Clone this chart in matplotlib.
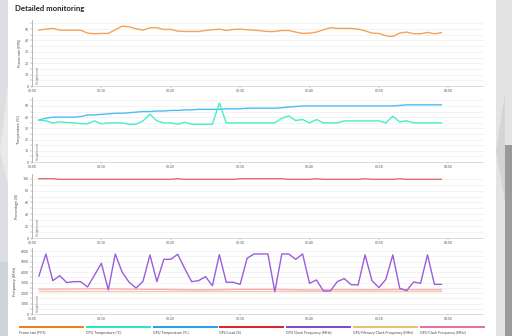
import numpy as np
import matplotlib
matplotlib.use("Agg")
import matplotlib.pyplot as plt
from matplotlib.patches import Rectangle, Polygon
from matplotlib.ticker import MultipleLocator, FuncFormatter

plt.rcParams["font.family"] = ["Lato", "DejaVu Sans"]

# ---------------- data (one sample per second) ----------------
seconds = list(range(1, 60))

frame_rate = [49.1, 50.0, 50.6, 49.1, 49.1, 49.1, 49.1, 46.5, 45.9, 46.2,
              46.2, 49.4, 52.6, 52.0, 50.3, 49.1, 51.2, 51.2, 49.7, 49.7,
              48.2, 47.9, 47.9, 47.9, 48.8, 49.4, 50.0, 48.8, 49.7, 50.0,
              49.4, 49.1, 48.5, 47.9, 47.9, 48.8, 48.8, 47.4, 46.2, 46.5,
              47.4, 49.4, 51.2, 50.6, 50.6, 50.6, 50.0, 48.5, 46.5, 46.2,
              44.1, 43.5, 46.5, 47.4, 45.9, 45.9, 47.1, 45.9, 46.8]

cpu_temp = [37.3, 36.7, 34.9, 35.8, 35.2, 34.9, 34.3, 34.0, 36.7, 34.0,
            34.9, 34.9, 34.9, 33.7, 33.7, 36.7, 42.6, 36.7, 34.9, 34.9,
            33.7, 35.5, 33.7, 33.7, 33.7, 33.7, 52.7, 34.9, 34.9, 34.9,
            34.9, 34.9, 34.9, 34.9, 34.9, 39.0, 41.1, 37.0, 37.9, 34.9,
            37.9, 34.9, 34.9, 34.9, 36.7, 36.7, 36.7, 36.7, 36.7, 36.7,
            34.9, 40.8, 35.8, 36.7, 34.9, 34.9, 34.9, 34.9, 34.9]

gpu_temp = [37.5, 39.0, 40.0, 40.0, 40.0, 40.0, 40.5, 42.0, 42.0, 42.5,
            43.0, 43.5, 43.5, 44.0, 44.5, 45.0, 45.0, 45.5, 45.5, 46.0,
            46.0, 46.5, 46.5, 47.0, 47.0, 47.0, 47.0, 47.5, 47.5, 47.5,
            48.0, 48.0, 48.0, 48.0, 48.0, 48.5, 49.0, 49.5, 50.0, 50.0,
            50.0, 50.0, 50.0, 50.0, 50.0, 50.0, 50.0, 50.0, 50.0, 50.0,
            50.0, 50.0, 50.5, 51.0, 51.0, 51.0, 51.0, 51.0, 51.0]

gpu_load = [100, 100, 100, 99, 99, 99, 99, 99, 99, 99,
            99, 99, 99, 99, 99, 99, 99, 99, 99, 99,
            100, 99, 99, 99, 99, 99, 99, 99, 99, 100,
            100, 100, 100, 100, 100, 100, 99, 99, 99, 99,
            100, 99, 99, 99, 99, 99, 99, 100, 99, 99,
            99, 99, 100, 99, 99, 99, 99, 99, 99]

cpu_clock = [3630, 5730, 3180, 3660, 3000, 3090, 3090, 2580, 3700, 4840,
             2300, 5730, 3980, 3030, 2480, 3120, 5640, 3090, 5220, 5220,
             5700, 4360, 3090, 3180, 3570, 2700, 5670, 3030, 3030, 2830,
             5320, 5730, 5730, 5730, 2130, 5730, 5730, 5220, 5730, 2930,
             3250, 2200, 2200, 3090, 3380, 2800, 2770, 5640, 3180, 2520,
             3310, 5640, 2450, 2230, 3060, 2930, 5640, 2830, 2830]

gpu_mem_clock = [2230] * 59

gpu_clock = [2360, 2370, 2380, 2380, 2380, 2390, 2390, 2400, 2400, 2400,
             2390, 2390, 2380, 2370, 2370, 2360, 2360, 2350, 2350, 2340,
             2330, 2320, 2310, 2310, 2310, 2320, 2330, 2340, 2350, 2350,
             2350, 2350, 2360, 2360, 2350, 2340, 2330, 2320, 2300, 2300,
             2300, 2310, 2320, 2330, 2330, 2330, 2320, 2310, 2310, 2320,
             2330, 2340, 2340, 2330, 2330, 2330, 2330, 2330, 2330]

time_ticks = [0, 10, 20, 30, 40, 50, 60]
time_labels = ["00:00", "00:10", "00:20", "00:30", "00:40", "00:50", "01:00"]

legend_names = ["Frame rate (FPS)", "CPU Temperature (°C)", "GPU Temperature (°C)",
                "GPU Load (%)", "CPU Clock Frequency (MHz)",
                "GPU Memory Clock Frequency (MHz)", "GPU Clock Frequency (MHz)"]
legend_colors = ["#f07f22", "#2de8bd", "#23a3ef", "#d6282e",
                 "#8548d4", "#e8c46c", "#ee6d9a"]

# ---------------- figure ----------------
W, H = 512, 336
fig = plt.figure(figsize=(W / 100, H / 100), dpi=100)
fig.patch.set_facecolor("white")


def box(x0, y0, x1, y1):
    # pixel box (top-left origin) -> figure fraction
    return [x0 / W, 1 - y1 / H, (x1 - x0) / W, (y1 - y0) / H]


# side chrome of the page screenshot
fig.add_artist(Rectangle((0, 0), 8 / W, 1, transform=fig.transFigure,
                         facecolor="#dcdee1", edgecolor="none"))
fig.add_artist(Polygon([(0, 0.55), (8 / W, 0.75), (8 / W, 0.45)], closed=True,
                       transform=fig.transFigure, facecolor="#e9eaec", edgecolor="none"))
fig.add_artist(Rectangle((0, 0), 8 / W, 0.22, transform=fig.transFigure,
                         facecolor="#cfd4db", edgecolor="none"))
fig.add_artist(Rectangle((496 / W, 0), 16 / W, 1, transform=fig.transFigure,
                         facecolor="#e3e3e3", edgecolor="none"))
fig.add_artist(Polygon([(496 / W, 0.55), (505 / W, 0.72), (505 / W, 0.40)], closed=True,
                       transform=fig.transFigure, facecolor="#d4d4d4", edgecolor="none"))
fig.add_artist(Rectangle((505 / W, 0), 7 / W, 1 - 145 / H, transform=fig.transFigure,
                         facecolor="#9a9a9a", edgecolor="none"))

fig.text(15 / W, 1 - 8 / H, "Detailed monitoring", fontsize=5.6, fontweight="bold",
         color="#222222", va="center", ha="left")

panels = [
    dict(top=20, bottom=86, ylim=58, major=10, minor=5, label="Frame rate (FPS)",
         series=[(frame_rate, "#f5a257")]),
    dict(top=97, bottom=162, ylim=58, major=10, minor=5, label="Temperature (°C)",
         series=[(gpu_temp, "#4cbcf7"), (cpu_temp, "#45f0c6")]),
    dict(top=174, bottom=238, ylim=108, major=20, minor=10, label="Percentage (%)",
         series=[(gpu_load, "#e4696b")]),
    dict(top=248, bottom=314, ylim=6300, major=1000, minor=500, label="Frequency (MHz)",
         series=[(gpu_mem_clock, "#f0cf94"), (gpu_clock, "#f3a9c6"), (cpu_clock, "#9a5ddc")]),
]

for p in panels:
    ax = fig.add_axes(box(32, p["top"], 483, p["bottom"]))
    ax.set_xlim(0, 65)
    ax.set_ylim(0, p["ylim"])
    for vals, col in p["series"]:
        ax.plot(seconds, vals, color=col, linewidth=1.0, solid_joinstyle="round")

    ax.yaxis.set_major_locator(MultipleLocator(p["major"]))
    ax.yaxis.set_minor_locator(MultipleLocator(p["minor"]))
    ax.grid(True, which="both", axis="y", color="#eeeeee", linewidth=0.5)
    ax.set_axisbelow(True)
    ax.set_xticks(time_ticks)
    ax.set_xticklabels(time_labels)
    ax.tick_params(axis="both", which="both", labelsize=2.4, colors="#888888",
                   length=1.2, width=0.3, pad=1.2, labelcolor="#555555")
    ax.yaxis.set_major_formatter(FuncFormatter(lambda v, _: f"{v:g}"))

    for s in ["top", "right"]:
        ax.spines[s].set_visible(False)
    ax.spines["left"].set_color("#999999")
    ax.spines["left"].set_linewidth(0.5)
    ax.spines["bottom"].set_color("#cccccc")
    ax.spines["bottom"].set_linewidth(0.5)

    ax.set_ylabel(p["label"], fontsize=2.8, color="#444444", labelpad=2.5)
    ax.text(0.6, p["ylim"] * 0.03, "Graphics test", rotation=90, fontsize=2.2,
            color="#777777", ha="left", va="bottom")

# legend strip at the bottom
for i, (name, col) in enumerate(zip(legend_names, legend_colors)):
    x0 = 19 + i * 66.8
    fig.add_artist(Rectangle((x0 / W, 1 - 328 / H), 65 / W, 2 / H,
                             transform=fig.transFigure, facecolor=col, edgecolor="none"))
    fig.text(x0 / W, 1 - 332.5 / H, name, fontsize=2.6, color="#444444",
             ha="left", va="center")

fig.savefig("out.png", dpi=100)
